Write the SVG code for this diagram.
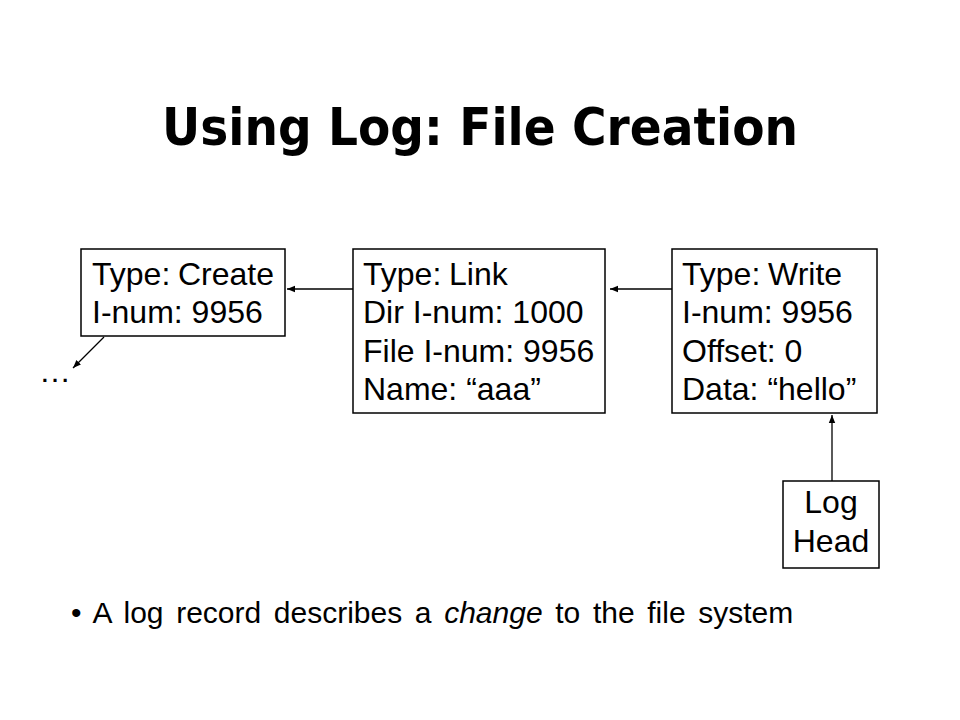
<svg xmlns="http://www.w3.org/2000/svg" width="960" height="720" viewBox="0 0 960 720">
<defs>
<style>
.box{fill:#fff;stroke:#000;stroke-width:1.5}
.t{font-family:"Liberation Sans",Arial,sans-serif;font-size:32px;fill:#000}
.title{font-family:"DejaVu Sans",Verdana,sans-serif;font-size:51px;font-weight:bold;fill:#000}
.conn{stroke:#000;stroke-width:1.3;fill:none;marker-end:url(#ah)}
</style>
<marker id="ah" viewBox="0 0 10 10" refX="10" refY="5" markerWidth="8" markerHeight="8" markerUnits="userSpaceOnUse" orient="auto">
<path d="M0,1 L10,5 L0,9 Z" fill="#000"/>
</marker>
</defs>
<rect width="960" height="720" fill="#fff"/>
<text class="title" x="162" y="145" textLength="636" lengthAdjust="spacingAndGlyphs">Using Log: File Creation</text>

<g id="connectors">
<line class="conn" x1="353" y1="289" x2="287" y2="289"/>
<line class="conn" x1="672" y1="289" x2="610" y2="289"/>
<line class="conn" x1="832" y1="481" x2="832" y2="415"/>
<line class="conn" x1="104" y1="337" x2="73" y2="368"/>
</g>

<g id="create">
<rect class="box" x="81" y="249" width="204" height="87"/>
<text class="t" x="92" y="285">Type:<tspan x="178">Create</tspan></text>
<text class="t" x="92" y="323">I-num: 9956</text>
</g>

<g id="link">
<rect class="box" x="353" y="249" width="252" height="164"/>
<text class="t" x="363" y="285">Type:<tspan x="449">Link</tspan></text>
<text class="t" x="363" y="323">Dir I-num: 1000</text>
<text class="t" x="363" y="362">File I-num: 9956</text>
<text class="t" x="363" y="400">Name: “aaa”</text>
</g>

<g id="write">
<rect class="box" x="672" y="249" width="205" height="164"/>
<text class="t" x="682" y="285">Type:<tspan x="768">Write</tspan></text>
<text class="t" x="682" y="323">I-num: 9956</text>
<text class="t" x="682" y="362">Offset: 0</text>
<text class="t" x="682" y="400">Data: “hello”</text>
</g>

<g id="loghead">
<rect class="box" x="783" y="481" width="96" height="87"/>
<text class="t" x="831" y="513" text-anchor="middle">Log</text>
<text class="t" x="831" y="552" text-anchor="middle">Head</text>
</g>

<g id="ellipsis">
<text class="t" x="39" y="382">…</text>
</g>

<g id="bullet">
<text class="t" x="71" y="623" style="font-size:30px;word-spacing:4.3px">• A log record describes a <tspan font-style="italic">change</tspan> to the file system</text>
</g>
</svg>
